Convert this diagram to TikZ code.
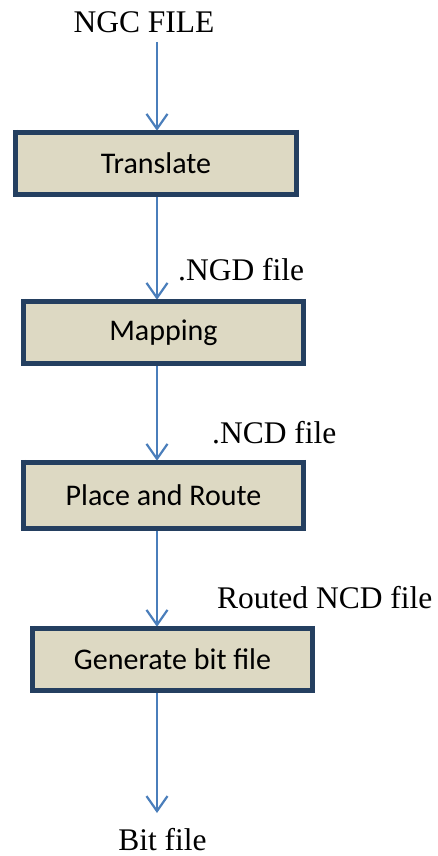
\documentclass[tikz,border=0pt]{standalone}
\usepackage{fontspec}
\setmainfont{Liberation Serif}
\newfontfamily\boxfont{Carlito}
\usetikzlibrary{arrows.meta}
\definecolor{boxfill}{HTML}{DDD9C3}
\definecolor{boxedge}{HTML}{243F60}
\definecolor{flow}{HTML}{4A7EBB}
\tikzset{
  stage/.style={fill=boxfill, draw=none, inner sep=0pt, minimum width=279pt,
    minimum height=61pt, font=\boxfont\fontsize{30}{36}\selectfont},
  filelabel/.style={inner sep=0pt, font=\fontsize{31.5}{37}\selectfont},
  flowarrow/.style={draw=flow, line width=2.2pt,
    -{Straight Barb[length=15pt,width=21pt,line width=2.2pt]}},
  hedge/.style={draw=boxedge, line width=5pt},
  vedge/.style={draw=boxedge, line width=5pt}
}
% frame each stage box: thick top/bottom rules, side bars a little longer
\newcommand{\stageframe}[1]{%
  \draw[hedge] (#1.north west) -- (#1.north east);
  \draw[hedge] (#1.south west) -- (#1.south east);
  \draw[vedge] ([yshift=3pt]#1.north west) -- ([yshift=-3pt]#1.south west);
  \draw[vedge] ([yshift=3pt]#1.north east) -- ([yshift=-3pt]#1.south east);
}
\begin{document}
\begin{tikzpicture}[x=1pt,y=-1pt]
\useasboundingbox (0,0) rectangle (438,856);

% file labels
\node[filelabel, anchor=base] (ngc) at (144,33) {NGC FILE};
\node[filelabel, anchor=base west] (ngd) at (178,280) {.NGD file};
\node[filelabel, anchor=base west] (ncd) at (212,443) {.NCD file};
\node[filelabel, anchor=base west] (rncd) at (217,608) {Routed NCD file};
\node[filelabel, anchor=base] (bit) at (162.5,850) {Bit file};

% processing stages
\node[stage, minimum width=280pt] (tr) at (156,163.5) {Translate};
\node[stage] (map) at (163.5,332.5) {Mapping};
\node[stage, minimum height=65pt] (par) at (163.5,495.5) {Place and Route};
\node[stage] (gen) at (172.5,659.5) {Generate bit file};

% flow axis
\coordinate (ax) at (157,0);
\coordinate (in) at (157,42);
\coordinate (out) at (157,813);

\draw[flowarrow] (in) -- ([yshift=2pt]tr.north -| ax);
\draw[flowarrow] (tr.south -| ax) -- ([yshift=2pt]map.north -| ax);
\draw[flowarrow] (map.south -| ax) -- ([yshift=2pt]par.north -| ax);
\draw[flowarrow] (par.south -| ax) -- ([yshift=2pt]gen.north -| ax);
\draw[flowarrow] (gen.south -| ax) -- (out);

\stageframe{tr}
\stageframe{map}
\stageframe{par}
\stageframe{gen}
\end{tikzpicture}
\end{document}
